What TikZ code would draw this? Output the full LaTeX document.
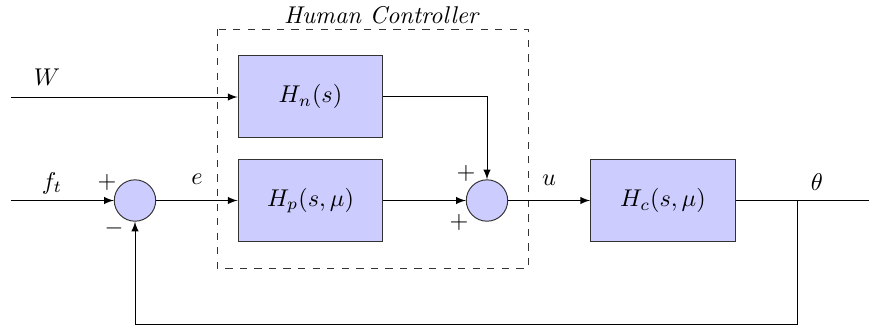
\documentclass[tikz,border=0pt]{standalone}
\usetikzlibrary{arrows}
\begin{document}
\begin{tikzpicture}[x=0.0145cm,y=-0.0145cm,>=latex,
  blockbox/.style={draw=black!80,fill=blue!20,minimum width=2.10cm,minimum height=1.20cm,inner sep=0pt},
  sumnode/.style={circle,draw=black!80,fill=blue!20,minimum size=0.60cm,inner sep=0pt},
  lbl/.style={inner sep=0pt}]
\useasboundingbox (0,0) rectangle (869,329);
\node[blockbox] (Hn) at (310.5,96.5) {$H_n(s)$};
\node[blockbox] (Hp) at (310.5,200.5) {$H_p(s,\mu)$};
\node[blockbox] (Hc) at (663,200.5) {$H_c(s,\mu)$};
\node[sumnode] (s1) at (135,200.5) {};
\node[sumnode] (s2) at (487,200.5) {};
\draw[dashed,black!80] (217,29) rectangle (528,268);
\node[lbl] (hc) at (382,15) {\textit{Human Controller}};
\coordinate (fin) at (11,200.5);
\coordinate (win) at (11,97);
\coordinate (br) at (797,200.5);
\coordinate (out) at (869,200.5);
\coordinate (fb) at (797,324);
\node[lbl] (ft) at (52,183) {$f_t$};
\node[lbl] (p1) at (107,182) {$+$};
\node[lbl] (m1) at (114,228) {$-$};
\node[lbl] (e) at (197,179) {$e$};
\node[lbl] (w) at (47,77) {$W$};
\node[lbl] (p2) at (466,173) {$+$};
\node[lbl] (p3) at (459,222) {$+$};
\node[lbl] (u) at (549,180) {$u$};
\node[lbl] (th) at (817,182) {$\theta$};
\draw[->] (fin) -- (s1);
\draw[->] (s1) -- (Hp);
\draw[->] (win) -- (Hn.west |- win);
\draw[->] (Hn.east) -| (s2.north);
\draw[->] (Hp) -- (s2);
\draw[->] (s2) -- (Hc);
\draw (Hc) -- (out);
\draw[->] (br) -- (fb) -| (s1.south);
\end{tikzpicture}
\end{document}
